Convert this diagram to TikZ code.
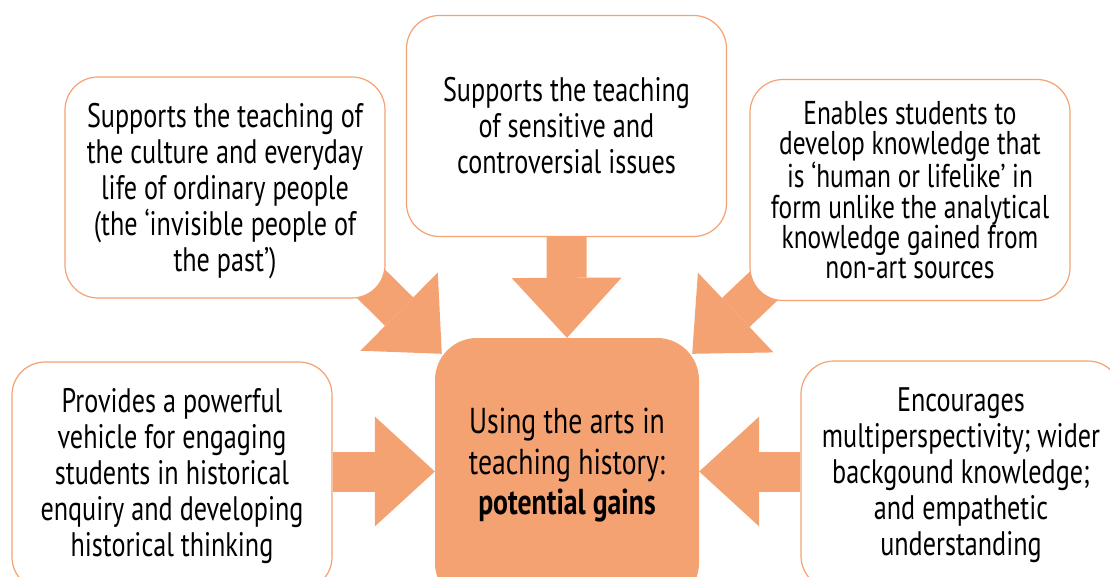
\documentclass[tikz,border=0pt]{standalone}
\usepackage{fontspec}
\setmainfont{PT Sans}[FakeStretch=0.77]
\usetikzlibrary{arrows.meta,backgrounds,calc}
\definecolor{gainorange}{RGB}{244,162,114}
\tikzset{
	gainbox/.style={draw=gainorange, line width=1.2pt, fill=white, rounded corners=33pt, minimum width=320pt, minimum height=221pt, inner sep=0pt, align=center, font=\fontsize{34}{36}\selectfont},
	hubbox/.style={fill=gainorange, rounded corners=42pt, minimum width=264pt, minimum height=267pt, inner sep=0pt, align=center, font=\fontsize{36}{40.5}\selectfont},
	fatarrow/.style={draw=gainorange, line width=40pt, -{Triangle[width=110pt, length=60pt, line width=0pt]}}
}

\begin{document}
\begin{tikzpicture}[x=1pt, y=-1pt]
		%%%%% START %%%%%
		
		\useasboundingbox (0, 0) rectangle (1110, 577);
		\clip (0, 0) rectangle (1110, 577);
		
		\node[hubbox, text depth=20pt] (hub) at (567, 471.5) {Using the arts in\\teaching history:\\\textbf{potential gains}};
		
		\node[gainbox, text depth=0pt] (culture) at (225, 187.5) {Supports the teaching of\\the culture and everyday\\life of ordinary people\\(the ‘invisible people of\\the past’)};
		\node[gainbox] (sensitive) at (566.5, 126) {Supports the teaching\\of sensitive and\\controversial issues};
		\node[gainbox, font=\fontsize{33}{30.2}\selectfont] (lifelike) at (910, 190) {Enables students to\\develop knowledge that\\is ‘human or lifelike’ in\\form unlike the analytical\\knowledge gained from\\non-art sources};
		\node[gainbox, minimum height=228pt] (enquiry) at (172, 476) {Provides a powerful\\vehicle for engaging\\students in historical\\enquiry and developing\\historical thinking};
		\node[gainbox, minimum height=228pt] (empathy) at (961, 475) {Encourages\\multiperspectivity; wider\\backgound knowledge;\\and empathetic\\understanding};
		
		\begin{scope}[on background layer]
			\draw[fatarrow] ($(culture.south east)+(-30, -30)$) -- ($(hub.north west)+(7, 16)$);
			\draw[fatarrow] (sensitive.south) -- (hub.north);
			\draw[fatarrow] ($(lifelike.south west)+(30, -30)$) -- ($(hub.north east)+(-7, 16)$);
			\draw[fatarrow] (hub.west -| enquiry.east) -- (hub.west);
			\draw[fatarrow] (hub.east -| empathy.west) -- (hub.east);
		\end{scope}
		
		%%%%% END %%%%%
	\end{tikzpicture}
\end{document}
